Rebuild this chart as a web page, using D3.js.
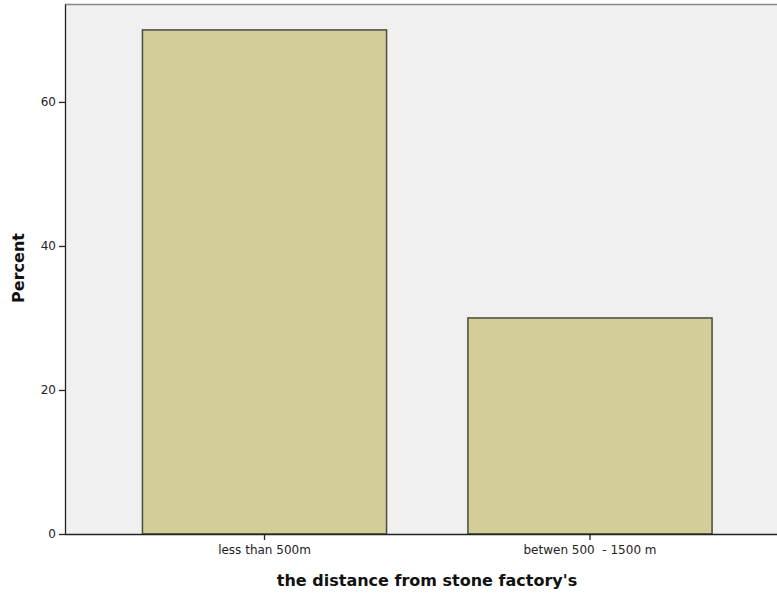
<!DOCTYPE html>
<html><head><meta charset="utf-8">
<script src="https://cdn.jsdelivr.net/npm/d3@7"></script>
<style>body{margin:0;background:#fff;} svg{display:block;} text{white-space:pre;}</style>
</head><body>
<svg id="c" width="777" height="595"></svg>
<script>
const categories = ["less than 500m", "betwen 500  - 1500 m"];
const percents = [70, 30];
const yTicks = [0, 20, 40, 60];
const xTitle = "the distance from stone factory's";
const yTitle = "Percent";

const svg = d3.select("#c");
const mLeft = 65, mTop = 4, mBottom = 534, mRight = 790;
const y = d3.scaleLinear().domain([0, 73.6]).range([mBottom, mTop]);
const x = d3.scaleBand().domain(categories).range([101.75, 752.75]).padding(0);

svg.append("rect").attr("x", mLeft).attr("y", mTop).attr("width", mRight - mLeft).attr("height", mBottom - mTop)
  .attr("fill", "#f0f0f0");
svg.append("line").attr("x1", mLeft).attr("x2", mRight).attr("y1", mTop + 0.5).attr("y2", mTop + 0.5)
  .attr("stroke", "#888").attr("stroke-width", 1.5);

const bw = x.bandwidth() * 0.75;
svg.selectAll("rect.bar").data(categories).enter().append("rect").attr("class", "bar")
  .attr("x", d => x(d) + (x.bandwidth() - bw) / 2)
  .attr("y", (d, i) => y(percents[i]))
  .attr("width", bw)
  .attr("height", (d, i) => y(0) - y(percents[i]))
  .attr("fill", "#d3ce97").attr("stroke", "#4a4a3e").attr("stroke-width", 1.5);

const yAxis = d3.axisLeft(y).tickValues(yTicks).tickSize(6).tickSizeOuter(0);
const gy = svg.append("g").attr("transform", `translate(${mLeft},0)`).call(yAxis);
gy.select(".domain").attr("stroke", "#222").attr("stroke-width", 1.3);
gy.selectAll(".tick line").attr("stroke", "#222").attr("stroke-width", 1.3);
gy.selectAll(".tick text").attr("font-family", "DejaVu Sans, sans-serif").attr("font-size", 12).attr("fill", "#222").attr("x", -9);

const xAxis = d3.axisBottom(x).tickSize(6).tickSizeOuter(0);
const gx = svg.append("g").attr("transform", `translate(0,${mBottom})`).call(xAxis);
gx.select(".domain").attr("d", `M${mLeft},0.5H${mRight}`).attr("stroke", "#222").attr("stroke-width", 1.3);
gx.selectAll(".tick line").attr("stroke", "#222").attr("stroke-width", 1.3);
gx.selectAll(".tick text").attr("font-family", "DejaVu Sans, sans-serif").attr("font-size", 12).attr("fill", "#222").attr("dy", "0.9em")
  .style("white-space", "pre");

svg.append("text").attr("x", 427).attr("y", 586).attr("text-anchor", "middle")
  .attr("font-family", "DejaVu Sans, sans-serif").attr("font-weight", "bold").attr("font-size", 16).attr("fill", "#111")
  .text(xTitle);
svg.append("text").attr("transform", "translate(24,268) rotate(-90)").attr("text-anchor", "middle")
  .attr("font-family", "DejaVu Sans, sans-serif").attr("font-weight", "bold").attr("font-size", 16).attr("fill", "#111")
  .text(yTitle);
</script>
</body></html>
